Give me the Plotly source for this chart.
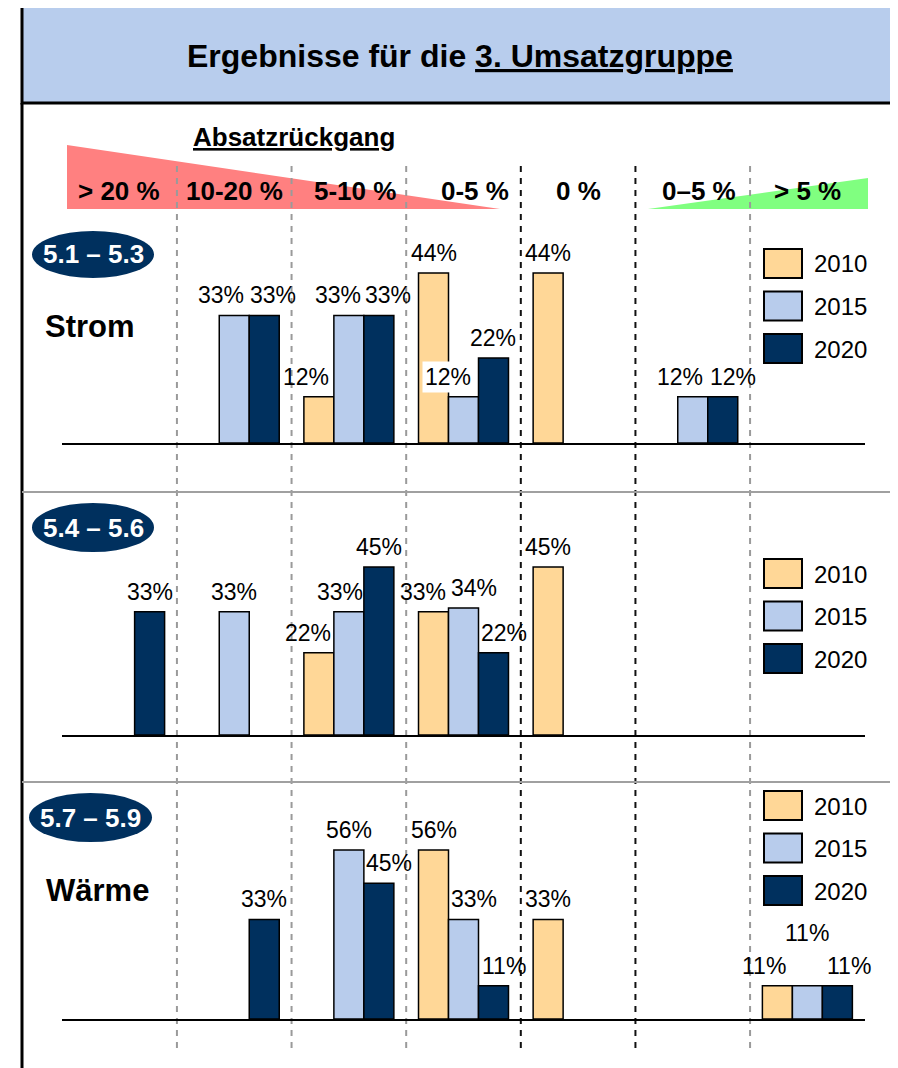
import plotly.graph_objects as go

W, H = 898, 1068
OFF = 8  # default body margin of the html page
FW, FH = W - OFF, H - OFF

CATEGORIES = ["> 20 %", "10-20 %", "5-10 %", "0-5 %", "0 %", "0–5 %", "> 5 %"]
YEARS = ["2010", "2015", "2020"]
BADGES = ["5.1 – 5.3", "5.4 – 5.6", "5.7 – 5.9"]
PANEL_NAMES = ["Strom", "", "Wärme"]

# shares in %, None = no bar
STROM_2010 = [None, None, 12, 44, 44, None, None]
STROM_2015 = [None, 33, 33, 12, None, 12, None]
STROM_2020 = [None, 33, 33, 22, None, 12, None]

MITTE_2010 = [None, None, 22, 33, 45, None, None]
MITTE_2015 = [None, 33, 33, 34, None, None, None]
MITTE_2020 = [33, None, 45, 22, None, None, None]

WAERME_2010 = [None, None, None, 56, 33, None, 11]
WAERME_2015 = [None, None, 56, 33, None, None, 11]
WAERME_2020 = [None, 33, 45, 11, None, None, 11]

PANELS = [
    (STROM_2010, STROM_2015, STROM_2020),
    (MITTE_2010, MITTE_2015, MITTE_2020),
    (WAERME_2010, WAERME_2015, WAERME_2020),
]

# ---------------------------------------------------------------------------
# styling / layout (pixels of the 898x1068 page)
# ---------------------------------------------------------------------------
COLORS = ["#FFD797", "#B8CCEC", "#00305E"]
NAVY = "#00305E"
FONT = "Liberation Sans, Arial, sans-serif"

X_LEFT, X_RIGHT = 62.3, 864.7
BASELINES = [443, 735, 1019]
PX_PER_PCT = [3.864, 3.733, 3.018]
AX_H = 200
BARGAP = 0.215
BW = (1 - BARGAP) / 3

# label nudges (panel, category, year index) -> (dx, dy) in px
LABEL_SHIFT = {
    (0, 1, 1): (-13, 0), (0, 1, 2): (9, 0), (0, 2, 0): (-13, 0),
    (0, 2, 1): (-11, 0), (0, 2, 2): (9, 0), (0, 3, 1): (-16, 0),
    (0, 5, 1): (-13, 0), (0, 5, 2): (10, 0),
    (1, 2, 0): (-11, 0), (1, 2, 1): (-9, 0), (1, 3, 0): (-11, 0),
    (1, 3, 1): (10, 0), (1, 3, 2): (11, 0),
    (2, 2, 2): (10, 0), (2, 3, 1): (10, 0), (2, 3, 2): (11, 0),
    (2, 6, 0): (-13, 0), (2, 6, 1): (0, 33), (2, 6, 2): (12, 0),
}
WHITE_BG = {(0, 3, 1)}

HEADER_SHIFT = [-1, 0, 6, 11, 0, 6, 0]
BADGE_BOX = [(32, 231, 154, 278), (32, 503, 154, 552), (29, 793, 152, 842)]
NAME_POS = [(90, 326), None, (97, 890)]
LEGEND_TOP = [249, 559, 791]
LEGEND_STEP = 42.5
SEP_X = [0.5, 1.5, 2.5, 3.5, 4.5, 5.5]
SEP_COLOR = ["#9A9A9A", "#9A9A9A", "#9A9A9A", "#111111", "#111111", "#9A9A9A"]


def px(x):
    return (x - OFF) / FW


def py(y):
    return 1 - (y - OFF) / FH


def paper_text(x, y, text, size, color="black", xanchor="center", **kw):
    return dict(x=px(x), y=py(y), xref="paper", yref="paper", showarrow=False,
                xanchor=xanchor, yanchor="middle", text=text,
                font=dict(family=FONT, size=size, color=color), **kw)


fig = go.Figure()
shapes = []
annotations = []
layout_axes = {}

for p, series in enumerate(PANELS):
    sfx = "" if p == 0 else str(p + 1)
    xa, ya = "x" + sfx, "y" + sfx
    base = BASELINES[p]
    for j, (year, vals) in enumerate(zip(YEARS, series)):
        fig.add_trace(
            go.Bar(
                x=list(range(len(CATEGORIES))),
                y=vals,
                name=year,
                xaxis=xa,
                yaxis=ya,
                showlegend=False,
                marker=dict(color=COLORS[j], line=dict(color="black", width=1.5)),
                hovertemplate=f"{year}: %{{y}}%<extra></extra>",
            )
        )
        for c, v in enumerate(vals):
            if v is None:
                continue
            dx, dy = LABEL_SHIFT.get((p, c, j), (0, 0))
            annotations.append(
                dict(
                    x=c + (j - 1) * BW, y=v, xref=xa, yref=ya,
                    text=f"{v}%", showarrow=False,
                    xanchor="center", yanchor="middle",
                    xshift=dx, yshift=20 + dy,
                    font=dict(family=FONT, size=23, color="black"),
                    bgcolor="white" if (p, c, j) in WHITE_BG else None,
                    borderpad=2,
                )
            )

    layout_axes["xaxis" + sfx] = dict(
        domain=[px(X_LEFT), px(X_RIGHT)], range=[-0.5, 6.5], anchor=ya,
        showticklabels=False, showgrid=False, zeroline=False, ticks="",
        showline=True, linecolor="black", linewidth=2, fixedrange=True,
    )
    layout_axes["yaxis" + sfx] = dict(
        domain=[py(base), py(base - AX_H)], range=[0, AX_H / PX_PER_PCT[p]],
        anchor=xa, visible=False, fixedrange=True,
    )

    # badge
    x0, y0, x1, y1 = BADGE_BOX[p]
    shapes.append(dict(type="circle", xref="paper", yref="paper",
                       x0=px(x0), x1=px(x1), y0=py(y1), y1=py(y0),
                       fillcolor=NAVY, line=dict(width=0)))
    annotations.append(paper_text((x0 + x1) / 2, (y0 + y1) / 2,
                                  f"<b>{BADGES[p]}</b>", 26, color="white"))
    if PANEL_NAMES[p]:
        nx, ny = NAME_POS[p]
        annotations.append(paper_text(nx, ny, f"<b>{PANEL_NAMES[p]}</b>", 31))

    # legend
    for j, year in enumerate(YEARS):
        top = LEGEND_TOP[p] + j * LEGEND_STEP
        shapes.append(dict(type="rect", xref="paper", yref="paper",
                           x0=px(764), x1=px(802), y0=py(top + 29), y1=py(top),
                           fillcolor=COLORS[j], line=dict(color="black", width=2)))
        annotations.append(paper_text(812, top + 15, year, 24, xanchor="left"))

# title box and frame
shapes += [
    dict(type="rect", xref="paper", yref="paper", x0=px(22), x1=px(910),
         y0=py(103), y1=py(5), fillcolor="#B8CDED", line=dict(color="black", width=3),
         layer="below"),
    dict(type="line", xref="paper", yref="paper", x0=px(22), x1=px(22),
         y0=py(103), y1=py(1070), line=dict(color="black", width=3)),
    dict(type="line", xref="paper", yref="paper", x0=px(893), x1=px(893),
         y0=py(103), y1=py(1070), line=dict(color="#333333", width=2)),
    dict(type="line", xref="paper", yref="paper", x0=px(22), x1=px(893),
         y0=py(492), y1=py(492), line=dict(color="#A0A0A0", width=2)),
    dict(type="line", xref="paper", yref="paper", x0=px(22), x1=px(893),
         y0=py(782), y1=py(782), line=dict(color="#A0A0A0", width=2)),
    dict(type="path", xref="paper", yref="paper", layer="below",
         path=f"M {px(67)},{py(145)} L {px(67)},{py(209)} L {px(500)},{py(209)} Z",
         fillcolor="#FF8080", line=dict(width=0)),
    dict(type="path", xref="paper", yref="paper", layer="below",
         path=f"M {px(648)},{py(209)} L {px(868)},{py(209)} L {px(868)},{py(178)} Z",
         fillcolor="#80FF80", line=dict(width=0)),
]
for sx, col in zip(SEP_X, SEP_COLOR):
    shapes.append(dict(type="line", xref="x", yref="paper", x0=sx, x1=sx,
                       y0=py(1048), y1=py(162), layer="below",
                       line=dict(color=col, width=2, dash="6px,6px")))

annotations.append(paper_text(460, 56, "<b>Ergebnisse für die <u>3. Umsatzgruppe</u></b>", 32))
annotations.append(paper_text(294, 137, "<b><u>Absatzrückgang</u></b>", 26))
for c, cat in enumerate(CATEGORIES):
    annotations.append(dict(x=c, y=py(191), xref="x", yref="paper", showarrow=False,
                            xanchor="center", yanchor="middle",
                            xshift=HEADER_SHIFT[c], text=f"<b>{cat}</b>",
                            font=dict(family=FONT, size=26, color="black")))

fig.update_layout(
    width=FW, height=FH,
    margin=dict(l=0, r=0, t=0, b=0),
    paper_bgcolor="white", plot_bgcolor="rgba(0,0,0,0)",
    barmode="group", bargap=BARGAP, bargroupgap=0,
    showlegend=False,
    shapes=shapes, annotations=annotations,
    **layout_axes,
)

fig.write_html("out.html")
